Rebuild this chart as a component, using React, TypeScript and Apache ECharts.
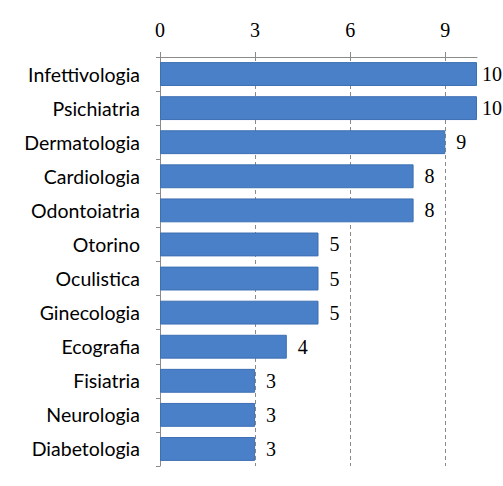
import React, { useEffect, useRef } from "react";
import * as echarts from "echarts";

const categories = [
  "Infettivologia",
  "Psichiatria",
  "Dermatologia",
  "Cardiologia",
  "Odontoiatria",
  "Otorino",
  "Oculistica",
  "Ginecologia",
  "Ecografia",
  "Fisiatria",
  "Neurologia",
  "Diabetologia",
];
const values = [10, 10, 9, 8, 8, 5, 5, 5, 4, 3, 3, 3];
const AXIS_MAX = 10;

export default function App() {
  const ref = useRef<HTMLDivElement>(null);
  useEffect(() => {
    if (!ref.current) return;
    const chart = echarts.init(ref.current, null, { renderer: "svg" });
    const seriesData = values.map((v) =>
      v >= AXIS_MAX ? { value: v, label: { distance: 5 } } : { value: v }
    );
    chart.setOption({
      animation: false,
      backgroundColor: "#ffffff",
      grid: { left: 160, right: 26, top: 57, bottom: 20, containLabel: false },
      xAxis: {
        type: "value",
        position: "top",
        min: 0,
        max: AXIS_MAX,
        interval: 3,
        axisLine: { show: true, lineStyle: { color: "#8a8a8a", width: 1 } },
        axisTick: { show: true, length: 5, lineStyle: { color: "#8a8a8a" } },
        axisLabel: {
          showMaxLabel: false,
          color: "#000",
          fontFamily: "Liberation Serif",
          fontSize: 20,
          margin: 17,
        },
        splitLine: {
          show: true,
          showMaxLine: false,
          lineStyle: { color: "#8a8a8a", type: [4, 3], width: 1 },
        },
      },
      yAxis: {
        type: "category",
        data: categories,
        inverse: true,
        axisLine: { show: true, lineStyle: { color: "#8a8a8a", width: 1 } },
        axisTick: { show: true, length: 4, lineStyle: { color: "#8a8a8a" } },
        axisLabel: {
          color: "#000",
          fontFamily: "Lato",
          fontSize: 19.5,
          margin: 20,
        },
      },
      series: [
        {
          type: "bar",
          data: seriesData,
          barCategoryGap: "30%",
          itemStyle: { color: "#4a80c8", borderColor: "#3d6fb3", borderWidth: 1 },
          label: {
            show: true,
            position: "right",
            distance: 11,
            color: "#000",
            fontFamily: "Liberation Serif",
            fontSize: 20,
          },
        },
      ],
    });
    return () => chart.dispose();
  }, []);
  return <div ref={ref} style={{ width: 503, height: 486, position: "absolute", left: 0, top: 0 }} />;
}
